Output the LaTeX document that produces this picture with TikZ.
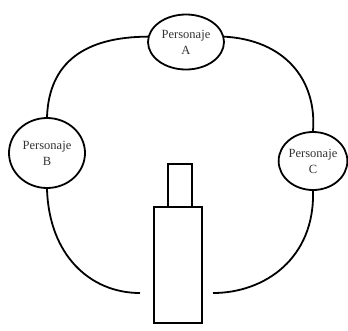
\documentclass[tikz,border=0pt]{standalone}
\usepackage{fontspec}
\setmainfont{Liberation Serif}
\usetikzlibrary{shapes.geometric}
\begin{document}
\begin{tikzpicture}[x=1pt,y=-1pt,
  pers/.style={draw,ellipse,line width=1.8pt,inner sep=0pt,align=center,
    font=\fontsize{12.5}{16}\selectfont,text=black!80},
  blockbox/.style={draw,line width=1.8pt,inner sep=0pt},
  link/.style={line width=1.8pt}]
\useasboundingbox (0,0) rectangle (348,330);
\node[pers,minimum width=76pt,minimum height=55pt] (A) at (186,42) {Personaje\\A};
\node[pers,minimum width=76pt,minimum height=70pt] (B) at (47,153) {Personaje\\B};
\node[pers,minimum width=68pt,minimum height=58pt] (C) at (313,161) {Personaje\\C};
\node[blockbox,minimum width=24pt,minimum height=43pt] (top) at (180,185.5) {};
\node[blockbox,minimum width=48pt,minimum height=116pt] (body) at (178,265) {};
\coordinate (bl) at (140,293);
\coordinate (br) at (213,293);
\draw[link] (A.172) .. controls (85,37) and (49,62) .. (B.north);
\draw[link] (A.8) .. controls (285,40) and (317,80) .. (C.north);
\draw[link] (B.south) .. controls (49,255) and (90,293) .. (bl);
\draw[link] (C.south) .. controls (315,258) and (265,293) .. (br);
\end{tikzpicture}
\end{document}
